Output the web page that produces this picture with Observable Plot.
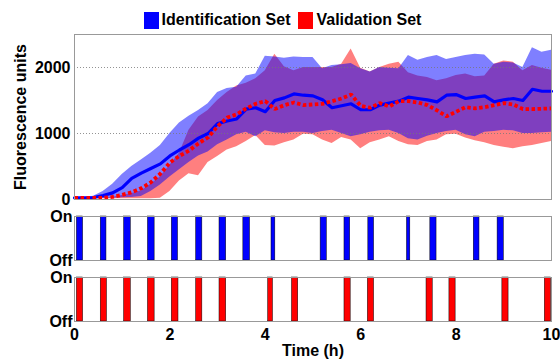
<!DOCTYPE html>
<html><head><meta charset="utf-8">
<script src="https://cdn.jsdelivr.net/npm/d3@7"></script>
<script src="https://cdn.jsdelivr.net/npm/@observablehq/plot@0.6"></script>
<style>
body{margin:0;background:#fff;}
#wrap{position:relative;width:560px;height:360px;overflow:hidden;font-family:"Liberation Sans",Arial,Helvetica,sans-serif;font-weight:bold;}
#legend{position:absolute;left:0;top:11px;width:560px;display:flex;justify-content:center;align-items:center;font-size:16px;padding-left:5px;box-sizing:border-box;color:#000}
.sw{display:inline-block;width:15px;height:17px;margin-right:3px}
.item{display:flex;align-items:center;margin:0 4px}
.p{position:absolute;left:0}
</style></head>
<body><div id="wrap">
<div id="legend"></div>
<div id="p1" class="p" style="top:24px"></div>
<div id="p2" class="p" style="top:206px"></div>
<div id="p3" class="p" style="top:267px"></div>
</div>
<script>
// time grid (h)
const t = [0,0.2,0.4,0.6,0.8,1.0,1.2,1.4,1.6,1.8,2.0,2.2,2.4,2.6,2.8,3.0,3.2,3.4,3.6,3.8,4.0,4.2,4.4,4.6,4.8,5.0,5.2,5.4,5.6,5.8,6.0,6.2,6.4,6.6,6.8,7.0,7.2,7.4,7.6,7.8,8.0,8.2,8.4,8.6,8.8,9.0,9.2,9.4,9.6,9.8,10];
// Identification set
const idMean = [25,25,30,60,100,180,320,400,470,540,660,750,830,930,1000,1150,1190,1220,1370,1390,1330,1500,1540,1600,1580,1570,1510,1390,1420,1450,1360,1360,1430,1460,1490,1550,1530,1510,1480,1580,1590,1530,1550,1570,1480,1510,1530,1500,1670,1640,1640];
const idHi = [30,30,50,120,230,380,500,600,700,820,1000,1160,1260,1350,1450,1620,1680,1700,1870,1900,2170,2160,2140,2160,2150,2150,1980,2030,2040,2060,1980,1930,2000,1990,1980,2180,2110,2150,2180,2120,2150,2180,2200,2190,2050,2080,2070,2000,2300,2230,2260];
const idLo = [10,10,10,15,20,25,30,45,120,220,340,450,560,660,720,830,900,980,1020,950,1040,1010,1000,1020,1020,1000,1030,1050,1000,950,980,1020,1040,1050,1000,920,900,960,1000,1030,1050,980,950,1020,1030,1050,1040,1000,1000,1010,1020];
// Validation set
const valMean = [25,25,25,25,40,70,110,170,260,390,560,660,740,850,940,1110,1240,1290,1380,1450,1490,1370,1430,1470,1430,1440,1450,1490,1530,1590,1420,1390,1460,1410,1490,1490,1470,1430,1350,1260,1330,1400,1380,1400,1430,1460,1440,1370,1370,1375,1380];
const valHi = [30,30,30,30,35,60,90,130,230,340,520,700,1050,1250,1350,1500,1620,1720,1760,1830,1950,2200,2010,1950,2000,2000,2000,2000,2050,2280,1990,1930,2000,2050,2080,1920,1870,1850,1800,1830,1880,1900,1860,1870,2050,2100,2080,1950,2030,1990,1960];
const valLo = [10,10,10,10,10,10,10,10,10,20,120,280,390,360,560,650,750,800,880,970,820,810,860,900,990,980,900,850,940,900,770,860,900,950,880,830,820,880,900,980,990,930,890,860,820,790,770,800,820,850,880];
// light pulses (start, end in h)
const idPulseStart = [0.05,0.55,1.04,1.54,2.04,2.55,3.04,3.54,4.13,5.16,5.66,6.16,6.97,7.46,8.37,8.87];
const idPulseEnd   = [0.18,0.67,1.18,1.68,2.17,2.68,3.18,3.68,4.21,5.29,5.78,6.28,7.04,7.59,8.49,9.00];
const valPulseStart = [0.05,0.55,1.04,1.54,2.04,2.55,3.04,4.06,4.56,5.66,6.15,7.38,7.86,8.97,9.86];
const valPulseEnd   = [0.18,0.68,1.18,1.68,2.18,2.68,3.18,4.16,4.69,5.79,6.28,7.51,7.99,9.10,9.99];
const yTicks = [0,1000,2000];
const xTicks = [0,2,4,6,8,10];
const stateLabels = ["Off","On"];
const seriesNames = ["Identification Set","Validation Set"];
const seriesColors = ["#0000ff","#ff0000"];

const rows = t.map((d,i)=>({t:d,idMean:idMean[i],idHi:idHi[i],idLo:idLo[i],valMean:valMean[i],valHi:valHi[i],valLo:valLo[i]}));
const idPulses = idPulseStart.map((s,i)=>({start:s,end:idPulseEnd[i]}));
const valPulses = valPulseStart.map((s,i)=>({start:s,end:valPulseEnd[i]}));

const style = {fontFamily:'"Liberation Sans",Arial,Helvetica,sans-serif',fontWeight:"bold",fontSize:"16px",background:"none",color:"#000",overflow:"visible"};
const common = {width:560, marginLeft:74, marginRight:9, x:{domain:[0,10]}, style};

// legend
const lg = document.getElementById("legend");
seriesNames.forEach((n,i)=>{
  const it = document.createElement("span"); it.className="item";
  const sw = document.createElement("span"); sw.className="sw"; sw.style.background=seriesColors[i];
  it.appendChild(sw); it.appendChild(document.createTextNode(n)); lg.appendChild(it);
});

const p1 = Plot.plot({...common, height:190, marginTop:10, marginBottom:15,
  y:{domain:[0,2500]},
  marks:[
    Plot.areaY(rows,{x:"t",y1:"valLo",y2:"valHi",fill:seriesColors[1],fillOpacity:0.5}),
    Plot.areaY(rows,{x:"t",y1:"idLo",y2:"idHi",fill:seriesColors[0],fillOpacity:0.5}),
    Plot.ruleY(yTicks.filter(d=>d>0),{stroke:"#777",strokeWidth:0.8,strokeDasharray:"1,2"}),
    Plot.lineY(rows,{x:"t",y:"idMean",stroke:seriesColors[0],strokeWidth:3.2}),
    Plot.lineY(rows,{x:"t",y:"valMean",stroke:seriesColors[1],strokeWidth:3.8,strokeDasharray:"3.5,2.5",strokeLinecap:"butt",strokeLinejoin:"miter"}),
    Plot.frame({stroke:"#999"}),
    Plot.axisY(yTicks,{tickSize:0,tickPadding:4,tickFormat:d=>String(d),label:"Fluorescence units",labelAnchor:"center",labelArrow:"none",labelOffset:60}),
    Plot.axisX({ticks:[],label:null})
  ]});
document.getElementById("p1").appendChild(p1);

function pulsePlot(data,color,h,mb,withX){
  return Plot.plot({...common, height:h, marginTop:10, marginBottom:mb,
    y:{domain:[0,1]},
    marks:[
      Plot.rect(data,{x1:"start",x2:"end",y1:0,y2:1,fill:color,stroke:"#000",strokeWidth:0.5}),
      Plot.frame({stroke:"#999"}),
      Plot.axisY([0,1],{tickFormat:d=>stateLabels[d],tickSize:0,tickPadding:2,label:null}),
      withX ? Plot.axisX(xTicks,{tickSize:0,tickPadding:7,tickFormat:d=>String(d),label:"Time (h)",labelAnchor:"center",labelArrow:"none",labelOffset:34})
            : Plot.axisX({ticks:[],label:null})
    ]});
}
document.getElementById("p2").appendChild(pulsePlot(idPulses,seriesColors[0],60,6,false));
document.getElementById("p3").appendChild(pulsePlot(valPulses,seriesColors[1],93,39,true));
</script>
</body></html>
